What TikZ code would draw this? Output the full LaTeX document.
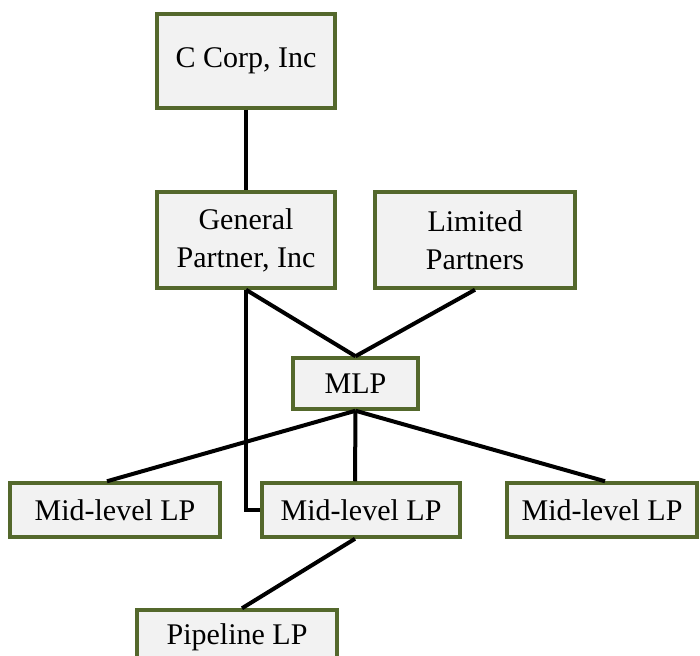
\documentclass[tikz,border=0pt]{standalone}
\usepackage{fontspec}
\setmainfont{Liberation Serif}
\begin{document}
\begin{tikzpicture}[x=1pt,y=-1pt,
  box/.style={draw=boxgreen, line width=3.5pt, fill=boxfill, inner sep=0pt, align=center,
    font=\fontsize{30}{38}\selectfont},
  conn/.style={line width=4pt, black}]
\definecolor{boxgreen}{RGB}{84,104,44}
\definecolor{boxfill}{RGB}{242,242,242}
\clip (0,0) rectangle (700,655);
\fill[white] (0,0) rectangle (700,655);
\node[box, minimum width=178pt, minimum height=94pt] (cc) at (246,61) {C Corp, Inc};
\node[box, minimum width=178pt, minimum height=96pt] (gp) at (246,240) {General\\Partner, Inc};
\node[box, minimum width=200pt, minimum height=96pt] (lp) at (475,240) {Limited\\Partners};
\node[box, minimum width=125pt, minimum height=51pt] (mlp) at (355.5,383.5) {MLP};
\node[box, minimum width=210pt, minimum height=54pt] (m1) at (115,510) {Mid-level LP};
\node[box, minimum width=198pt, minimum height=54pt] (m2) at (361,510) {Mid-level LP};
\node[box, minimum width=190pt, minimum height=54pt] (m3) at (602,510) {Mid-level LP};
\node[box, minimum width=200pt, minimum height=54pt] (pl) at (237,637) {Pipeline LP};
\draw[conn] (cc.south) -- (gp.north);
\draw[conn] (gp.south) -- (mlp.north);
\draw[conn] (lp.south) -- (mlp.north);
\draw[conn] (gp.south) |- (m2.west);
\draw[conn] (mlp.south) -- ([xshift=-8pt]m1.north);
\draw[conn] (mlp.south) -- ([xshift=-6pt]m2.north);
\draw[conn] (mlp.south) -- ([xshift=3pt]m3.north);
\draw[conn] ([xshift=-6pt]m2.south) -- ([xshift=5pt]pl.north);
\end{tikzpicture}
\end{document}
